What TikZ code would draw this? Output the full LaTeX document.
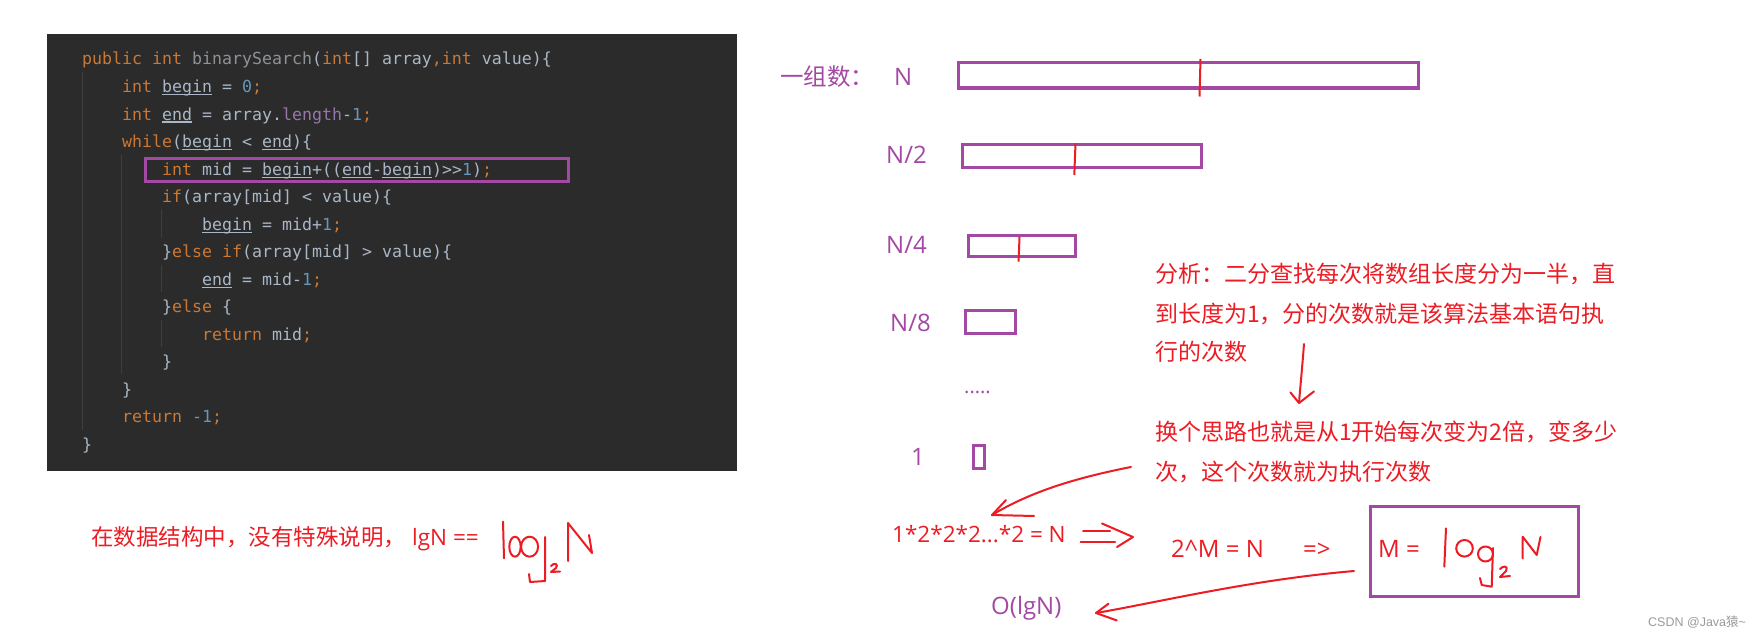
\documentclass[tikz,border=0pt]{standalone}
\usepackage{fontspec}
\usetikzlibrary{calc}
\newfontfamily\cjkfont{Noto Sans CJK SC}
\newfontfamily\latfont{Open Sans}
\newfontfamily\wmlat{Liberation Sans}
\newfontfamily\codefont{DejaVu Sans Mono}
\definecolor{pur}{HTML}{A349A4}
\definecolor{rd}{HTML}{ED1C24}
\definecolor{bgc}{HTML}{2B2B2B}
\definecolor{ckw}{HTML}{CC7832}
\definecolor{cid}{HTML}{A9B7C6}
\definecolor{cnum}{HTML}{6897BB}
\definecolor{cfld}{HTML}{9876AA}
\definecolor{cfn}{HTML}{8E9297}
\definecolor{guidec}{HTML}{3E3E3E}
\definecolor{wmc}{HTML}{9A9A9A}
\newcommand\kwd[1]{\textcolor{ckw}{#1}}
\newcommand\nmb[1]{\textcolor{cnum}{#1}}
\newcommand\fld[1]{\textcolor{cfld}{#1}}
\newcommand\fnm[1]{\textcolor{cfn}{#1}}
\newcommand\uln[1]{{\setbox0=\hbox{#1}\rlap{\rule[-2.6pt]{\wd0}{1.1pt}}\box0}}
\tikzset{
  codeline/.style={anchor=base west, inner sep=0pt, text=cid, font=\codefont\fontsize{16.6}{20}\selectfont},
  guide/.style={draw=guidec, line width=1pt},
  plab/.style={anchor=base west, inner sep=0pt, text=pur, font=\latfont\fontsize{24}{28}\selectfont},
  pcjk/.style={anchor=base west, inner sep=0pt, text=pur, font=\cjkfont\fontsize{23.5}{28}\selectfont},
  rcjk/.style={anchor=base west, inner sep=0pt, text=rd, font=\cjkfont\fontsize{23}{28}\selectfont},
  rlat/.style={anchor=base west, inner sep=0pt, text=rd, font=\latfont\fontsize{24}{28}\selectfont},
  pbox/.style={draw=pur, line width=3pt, inner sep=0pt},
  hand/.style={draw=rd, line width=2pt, line cap=round, line join=round},
  tick/.style={draw=rd, line width=2pt},
}
\begin{document}
\begin{tikzpicture}[x=1pt, y=-1pt]
\useasboundingbox (0,0) rectangle (1762,642);
\fill[white] (0,0) rectangle (1762,642);

% code panel
\fill[bgc] (46.5,34.5) rectangle (737,471);
\draw[guide] (82.4,72) -- (82.4,430);
\draw[guide] (121.9,155) -- (121.9,374);
\draw[guide] (161.4,209) -- (161.4,238);
\draw[guide] (161.4,265) -- (161.4,292);
\draw[guide] (161.4,320) -- (161.4,347);

\node[codeline] (c0) at (82,65) {\kwd{public int} \fnm{binarySearch}(\kwd{int}[] array\kwd{,int} value)\{};
\node[codeline] (c1) at (122,92.5) {\kwd{int} \uln{begin} = \nmb{0}\kwd{;}};
\node[codeline] (c2) at (122,120) {\kwd{int} \uln{end} = array.\fld{length}-\nmb{1}\kwd{;}};
\node[codeline] (c3) at (122,147.5) {\kwd{while}(\uln{begin} < \uln{end})\{};
\node[codeline] (c4) at (162,175) {\kwd{int} mid = \uln{begin}+((\uln{end}-\uln{begin})>>\nmb{1})\kwd{;}};
\node[codeline] (c5) at (162,202.5) {\kwd{if}(array[mid] < value)\{};
\node[codeline] (c6) at (202,230) {\uln{begin} = mid+\nmb{1}\kwd{;}};
\node[codeline] (c7) at (162,257.5) {\}\kwd{else if}(array[mid] > value)\{};
\node[codeline] (c8) at (202,285) {\uln{end} = mid-\nmb{1}\kwd{;}};
\node[codeline] (c9) at (162,312.5) {\}\kwd{else} \{};
\node[codeline] (c10) at (202,340) {\kwd{return} mid\kwd{;}};
\node[codeline] (c11) at (162,367.5) {\}};
\node[codeline] (c12) at (122,395) {\}};
\node[codeline] (c13) at (122,422.5) {\kwd{return} \nmb{-1}\kwd{;}};
\node[codeline] (c14) at (82,450) {\}};
\node[pbox, draw=pur, line width=2.7pt, minimum width=423pt, minimum height=23.6pt] (hl) at (357,170) {};

% bottom-left note
\node[rcjk, font=\cjkfont\fontsize{22.5}{28}\selectfont] (note) at (91,545.2) {在数据结构中，没有特殊说明，};
\node[rlat, font=\latfont\fontsize{22.5}{28}\selectfont] (notelg) at (412,545.2) {lgN ==};
% handwritten log2N (left)
\draw[hand] (503,521.7) -- (504,558.3);
\draw[hand] (515,546.7) ellipse [x radius=5.7pt, y radius=10pt];
\draw[hand] (529.6,546.7) ellipse [x radius=8.5pt, y radius=10pt];
\draw[hand] (545,537) -- (545,581) -- (530,582) -- (529,574);
\draw[hand] (551,566) .. controls (554,562) and (559,564) .. (556,568) -- (551,572) -- (560,571.5);
\draw[hand] (568,561) -- (568,523) -- (592,553) -- (589,535);

% right side: labels
\node[pcjk] (lblA) at (780,85.6) {一组数：};
\node[plab] (lblN) at (894,85.3) {N};
\node[plab] (lbl2) at (886,163.5) {N/2};
\node[plab] (lbl4) at (886,253.5) {N/4};
\node[plab] (lbl8) at (890,331) {N/8};
\node[plab, font=\latfont\fontsize{20}{24}\selectfont] (dots) at (964,393) {.....};
\node[plab] (lbl1) at (911,465) {1};

% boxes
\node[pbox, minimum width=460pt, minimum height=25pt] (boxN) at (1188,75.5) {};
\node[pbox, minimum width=239pt, minimum height=23pt] (box2) at (1081.5,156) {};
\node[pbox, minimum width=107.5pt, minimum height=21pt] (box4) at (1021.75,246) {};
\node[pbox, minimum width=49.3pt, minimum height=23pt] (box8) at (990.35,322.2) {};
\node[pbox, minimum width=11pt, minimum height=23pt] (box1) at (979,456.5) {};
\draw[tick] (1200.5,59) -- (1199.5,96.5);
\draw[tick] (1075.5,143.3) -- (1074.3,175);
\draw[tick] (1019.5,236.7) -- (1018.6,261.7);

% analysis text
\node[rcjk] (ana1) at (1155,282) {分析：二分查找每次将数组长度分为一半，直};
\node[rcjk] (ana2) at (1155,322) {到长度为1，分的次数就是该算法基本语句执};
\node[rcjk] (ana3) at (1155,360.4) {行的次数};
\node[rcjk] (chg1) at (1155,440.4) {换个思路也就是从1开始每次变为2倍，变多少};
\node[rcjk] (chg2) at (1155,480.4) {次，这个次数就为执行次数};

% arrow analysis -> change
\coordinate (a1s) at (1304,344);
\coordinate (a1e) at (1299,403);
\draw[hand] (a1s) .. controls (1302,370) and (1300,390) .. (a1e);
\draw[hand] ($(a1e)+(-8.6,-10.6)$) -- (a1e) -- ($(a1e)+(15,-11.6)$);

% equations
\node[rlat, font=\latfont\fontsize{22.5}{28}\selectfont] (eq1) at (892,542) {1*2*2*2...*2 = N};
\draw[hand] (1083,531) -- (1110,531);
\draw[hand] (1080.5,542) -- (1115,542);
\draw[hand] (1102,523.5) -- (1133,537) -- (1117,547);
\node[rlat] (eq2) at (1171,557) {2\textasciicircum M = N};
\node[rlat] (eq3) at (1303,557) {=>};
\node[pbox, minimum width=207.5pt, minimum height=89.5pt] (boxM) at (1474.25,551.25) {};
\node[rlat] (eqM) at (1378,557) {M =};
% handwritten log2N (box)
\draw[hand] (1446,528.3) -- (1444.3,566.7);
\draw[hand] (1464.5,548.3) ellipse [x radius=8.3pt, y radius=8.3pt];
\draw[hand] (1485.5,554) ellipse [x radius=7.5pt, y radius=7.5pt];
\draw[hand] (1493,548) -- (1491.7,586.7) -- (1481.7,585) -- (1480,578);
\draw[hand] (1500,569) .. controls (1503,565) and (1509,566) .. (1506,571) -- (1500,577) -- (1510,576);
\draw[hand] (1522.7,558.3) -- (1522.7,536.7) -- (1536.7,555) -- (1540.5,537);

% arrow change -> eq1
\coordinate (a2s) at (1131,467);
\coordinate (a2e) at (992,515);
\draw[hand] (a2s) .. controls (1075,478) and (1030,492) .. (a2e);
\draw[hand] ($(a2e)+(14,-15)$) -- (a2e) -- ($(a2e)+(42,1)$);

% arrow boxM -> O(lgN)
\node[plab] (olg) at (991,614.5) {O(lgN)};
\coordinate (a3s) at (1354,571);
\coordinate (a3e) at (1096,613);
\draw[hand] (a3s) .. controls (1250,580) and (1160,602) .. (a3e);
\draw[hand] ($(a3e)+(12.5,-9.3)$) -- (a3e) -- ($(a3e)+(20.7,7.4)$);

% watermark
\node[anchor=base west, inner sep=0pt, text=wmc, font=\wmlat\fontsize{12.5}{15}\selectfont] (wm) at (1648,626) {CSDN @Java{\cjkfont 猿}\textasciitilde};
\end{tikzpicture}
\end{document}
